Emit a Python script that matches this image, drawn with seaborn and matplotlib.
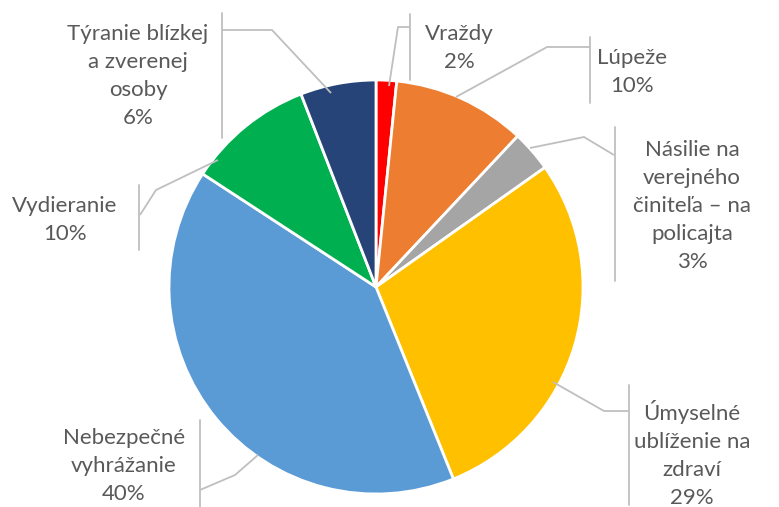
import matplotlib
matplotlib.use("Agg")
import matplotlib.pyplot as plt
import seaborn as sns

categories = ["Vraždy", "Lúpeže", "Násilie na\nverejného\nčiniteľa – na\npolicajta",
              "Úmyselné\nublíženie na\nzdraví", "Nebezpečné\nvyhrážanie",
              "Vydieranie", "Týranie blízkej\na zverenej\nosoby"]
values = [1.6, 10.4, 3.2, 28.7, 40.3, 9.9, 5.9]
pct_labels = ["2%", "10%", "3%", "29%", "40%", "10%", "6%"]
colors = ["#FF0000", "#ED7D31", "#A5A5A5", "#FFC000", "#5B9BD5", "#00B050", "#264478"]

sns.set_theme(style="white")
plt.rcParams["font.family"] = ["Lato", "DejaVu Sans"]

W, H = 779, 507
fig = plt.figure(figsize=(W / 100, H / 100), dpi=100)
ax = fig.add_axes([0, 0, 1, 1])

cx, cy, r = 376, 287, 207
# y axis is inverted below, so counterclock=True shows clockwise
wedges, _ = ax.pie(values, colors=colors, startangle=-90, counterclock=True,
                   center=(cx, cy), radius=r, frame=True,
                   wedgeprops=dict(edgecolor="white", linewidth=2))
ax.set_xlim(0, W)
ax.set_ylim(H, 0)
ax.set_aspect("equal")
ax.axis("off")

# leader lines: start on slice, elbow, end at label bar
leaders = [
    [(389, 86), (398, 27), (410, 27)],
    [(456, 97), (547, 47), (590, 47)],
    [(530, 148), (584, 137), (614, 155)],
    [(553, 382), (604, 411), (629, 411)],
    [(258, 455), (235, 475), (200, 490)],
    [(218, 160), (156, 190), (140, 215)],
    [(331, 93), (272, 30), (222, 30)],
]
bars = [(410, 14, 80), (590, 37, 103), (615, 127, 281), (629, 385, 505),
        (200, 420, 507), (139, 185, 250), (222, 13, 138)]
text_pos = [(459, 47.5), (632, 71.5), (692, 206.5), (692, 454.5),
            (124, 465.5), (65, 219.5), (138, 76.5)]

line_col = "#BFBFBF"
for i, cat in enumerate(categories):
    xs = [p[0] for p in leaders[i]]
    ys = [p[1] for p in leaders[i]]
    ax.plot(xs, ys, color=line_col, lw=1.3, solid_capstyle="butt")
    bx, b0, b1 = bars[i]
    ax.plot([bx, bx], [b0, b1], color=line_col, lw=1.3)
    tx, ty = text_pos[i]
    ax.text(tx, ty, cat + "\n" + pct_labels[i], ha="center", va="center",
            fontsize=16, color="#595959", linespacing=1.5)

fig.savefig("out.png", dpi=100)
